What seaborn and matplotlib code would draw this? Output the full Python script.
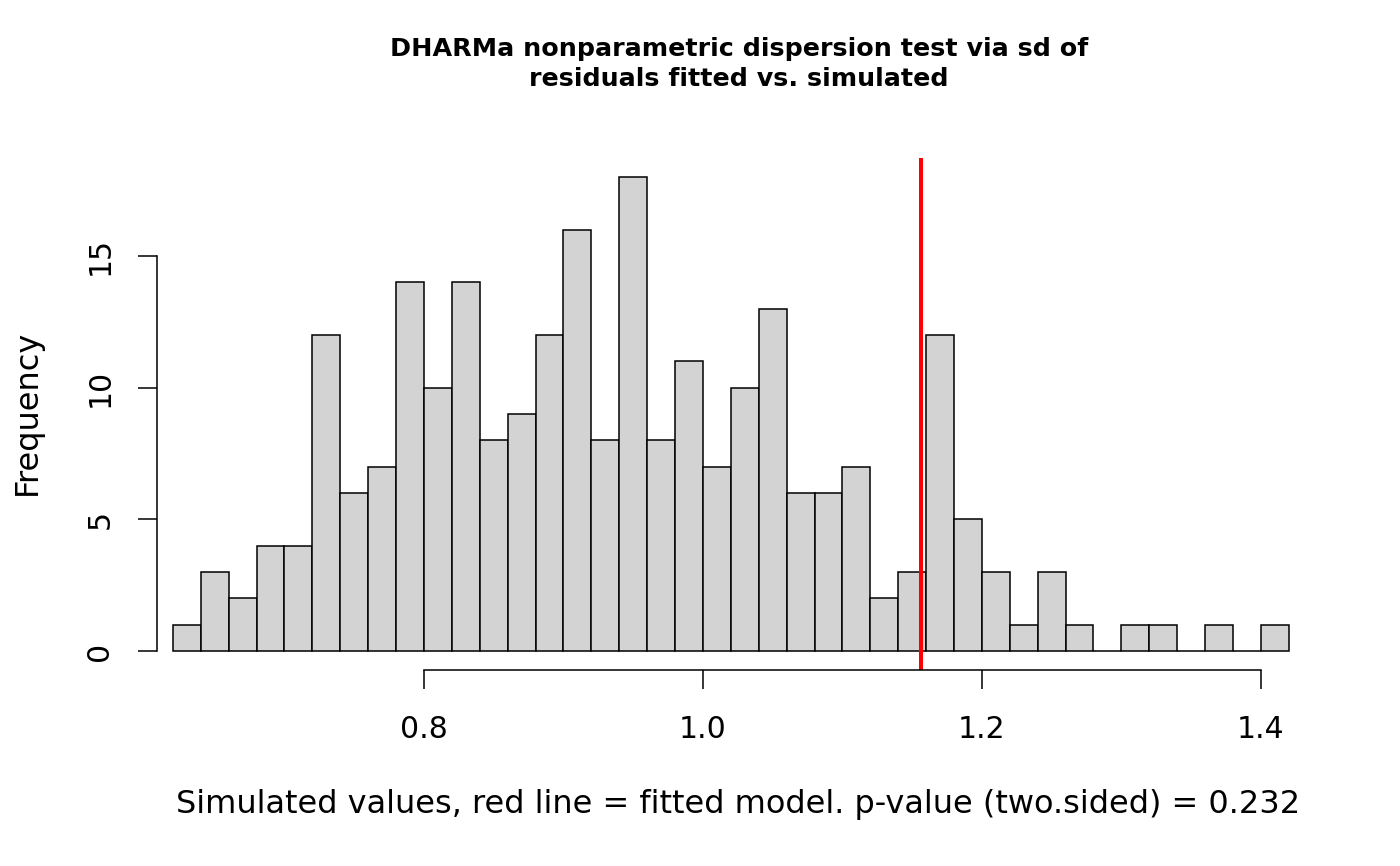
import numpy as np
import pandas as pd
import matplotlib
matplotlib.use("Agg")
import matplotlib.pyplot as plt
import seaborn as sns

# Histogram of simulated dispersion values (bin width 0.02)
bin_edges = [round(0.62 + 0.02 * i, 2) for i in range(41)]
counts = [1, 3, 2, 4, 4, 12, 6, 7, 14, 10,
          14, 8, 9, 12, 16, 8, 18, 8, 11, 7,
          10, 13, 6, 6, 7, 2, 3, 12, 5, 3,
          1, 3, 1, 0, 1, 1, 0, 1, 0, 1]
observed = 1.156  # fitted model value (red line)

x_ticks = [0.8, 1.0, 1.2, 1.4]
y_ticks = [0, 5, 10, 15]

title = "DHARMa nonparametric dispersion test via sd of\nresiduals fitted vs. simulated"
x_label = "Simulated values, red line = fitted model. p-value (two.sided) = 0.232"
y_label = "Frequency"

sns.set_style("white")
plt.rcParams["font.family"] = ["DejaVu Sans"]
plt.rcParams["text.color"] = "black"

df = pd.DataFrame({
    "mid": [(a + b) / 2 for a, b in zip(bin_edges[:-1], bin_edges[1:])],
    "count": counts,
})

fig = plt.figure(figsize=(14, 8.66), dpi=100)
ax = fig.add_axes([157 / 1400, 1 - 670 / 866, (1325 - 157) / 1400, (670 - 158) / 866])

sns.histplot(data=df, x="mid", weights="count", bins=bin_edges, ax=ax,
             color="#D3D3D3", edgecolor="black", linewidth=1.1, alpha=1)
ax.axvline(observed, color="red", lw=2.9)

ax.set_xlim(0.6086, 1.446)
ax.set_ylim(-0.72, 18.72)

for s in ["top", "right"]:
    ax.spines[s].set_visible(False)
ax.spines["left"].set_bounds(0, 15)
ax.spines["bottom"].set_bounds(0.8, 1.4)
for s in ["left", "bottom"]:
    ax.spines[s].set_linewidth(1.1)
    ax.spines[s].set_color("black")

ax.set_xticks(x_ticks)
ax.set_xticklabels([f"{v:.1f}" for v in x_ticks])
ax.set_yticks(y_ticks)
ax.set_yticklabels([str(v) for v in y_ticks], rotation=90, va="center")
ax.tick_params(axis="both", direction="out", length=13.7, width=1.1,
               color="black", labelsize=21.5, labelcolor="black",
               bottom=True, left=True)
ax.tick_params(axis="x", pad=19)
ax.tick_params(axis="y", pad=17)

ax.set_xlabel("")
ax.set_ylabel("")
fig.text(738 / 1400, 1 - 805 / 866, x_label, ha="center", va="center",
         fontsize=23, color="black")
fig.text(27 / 1400, 1 - 412 / 866, y_label, ha="center", va="center",
         rotation=90, fontsize=23, color="black")
fig.text(739 / 1400, 1 - 64 / 866, title, ha="center", va="center",
         fontsize=18.3, fontweight="bold", linespacing=1.36, color="black")

fig.savefig("out.png", dpi=100, facecolor="white")
